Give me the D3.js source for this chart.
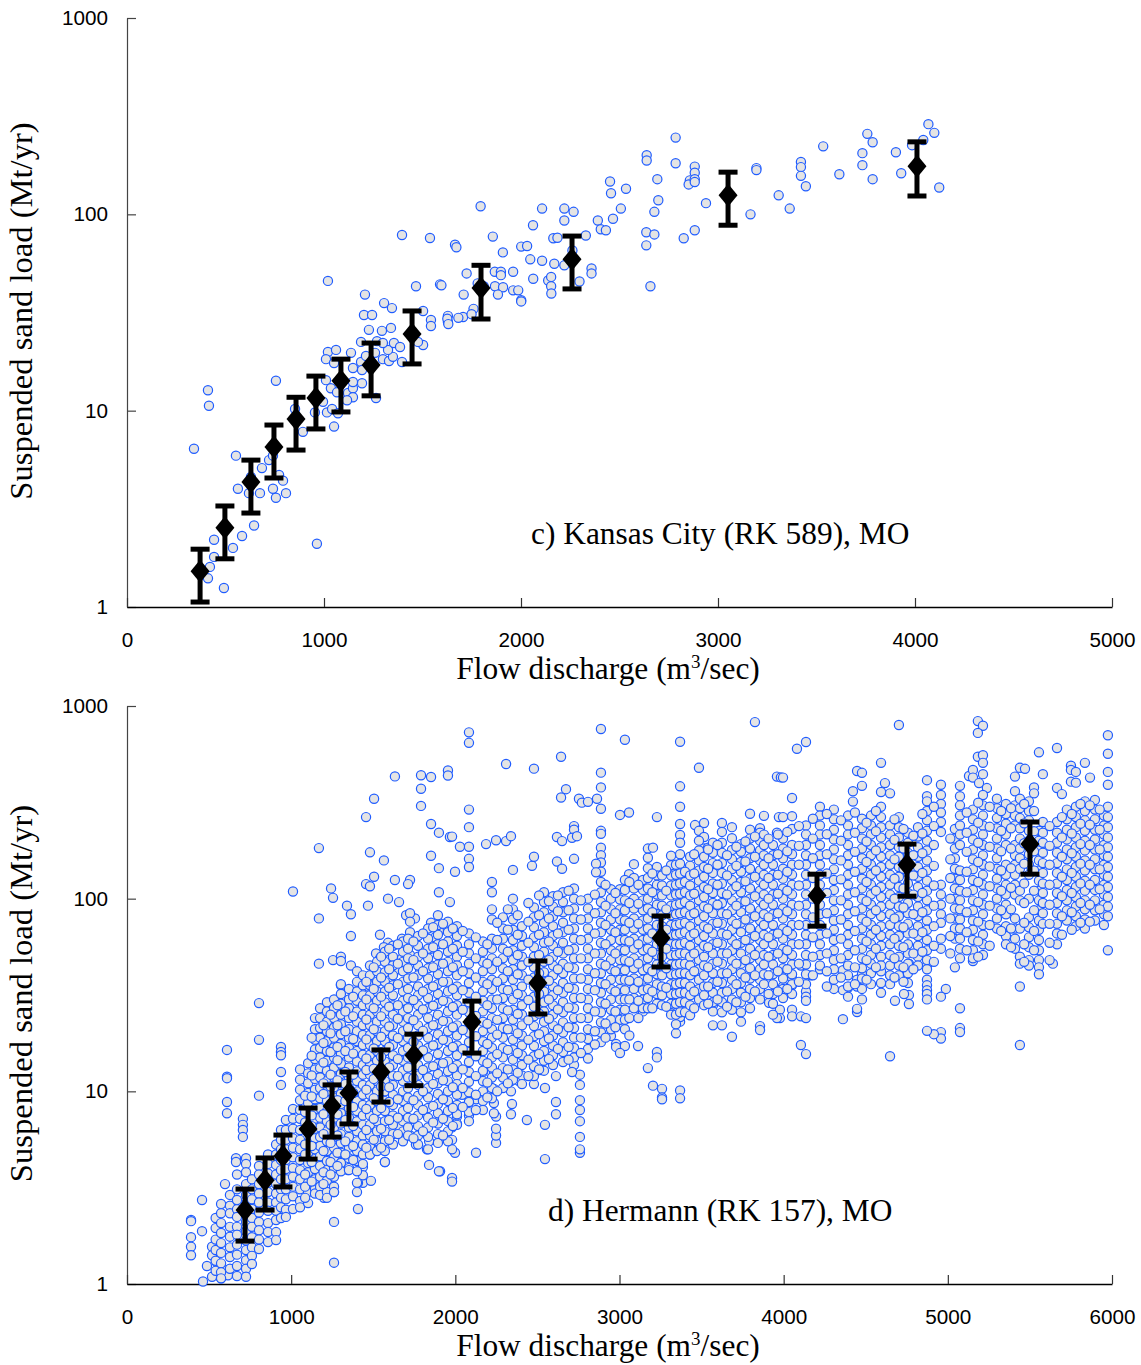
<!DOCTYPE html>
<html>
<head>
<meta charset="utf-8">
<script src="https://cdn.jsdelivr.net/npm/d3@7"></script>
<style>
  html, body { margin: 0; padding: 0; background: #fff; }
  svg { display: block; }
  .tick text { font-family: "Liberation Sans", Arial, sans-serif; font-size: 20.7px; fill: #000; }
  .title { font-family: "Liberation Serif", "Times New Roman", serif; font-size: 31.4px; fill: #000; }
  .ytitle { font-size: 32.6px; }
</style>
</head>
<body>
<svg id="chart" width="1141" height="1365"></svg>
<script>
const yTicks = [1, 10, 100, 1000]
const kansasTicks = [0, 1000, 2000, 3000, 4000, 5000]
const hermannTicks = [0, 1000, 2000, 3000, 4000, 5000, 6000]

// panel c, [discharge, sand load]
const kansasPoints = [
  [340,6.4],[411,12.7],[416,10.6],[756,14.2],[553,5.9],[685,5.1],[721,5.6],[741,5.9],[629,4.6],[772,4.7],[792,4.4],[563,4],[619,3.8],[675,3.8],[741,4],[807,3.8],[756,3.6],
  [645,2.6],[584,2.3],[442,2.2],[538,2],[442,1.8],[421,1.6],[411,1.4],[492,1.25],[964,2.1],[853,10.2],[893,7.8],[1010,14.3],[954,9.8],[1051,8.3],[1015,9.8],[1041,10.2],[1071,9.7],
  [995,11.1],[1035,13],[1066,12.4],[1122,12.3],[1147,13],[1147,11.7],[1117,11.3],[1193,13.8],[1147,14],[1264,11.6],[1020,19.9],[1061,20.4],[1010,18.3],[1051,17.5],[1137,19.7],[1147,16.5],
  [1188,17.7],[1193,16.1],[1213,19],[1259,19.7],[1299,18.3],[1330,17.9],[1350,18.8],[1325,20.4],[1396,17.7],[1188,22.4],[1269,22.6],[1299,22.1],[1355,22.1],[1386,21.1],[1294,25.5],[1340,26.4],
  [1228,25.8],[1203,30.7],[1244,30.7],[1305,35.3],[1345,33.3],[1503,32.2],[1543,29],[1543,27],[1629,30.4],[1629,28.3],[1503,21.6],[1477,22.4],[1020,45.8],[1396,78.5],[1538,75.8],[1467,43],[1589,44],[1665,70],[1208,39],[1706,30],
  [1795,110],[1672,68],[1857,77],[1908,64],[1724,50],[1867,51],[1898,51],[1898,49],[1960,51],[1780,44.5],[1811,43],[1868,43],[1909,42.5],[1960,41],[1986,41],[1883,39],[1709,39],[2001,36.5],[2001,36],[1596,43.5],
  [1759,33],[1749,31],[1682,29.7],[1626,29.4],[1631,27.6],[2107,107],[2061,88],[2220,107],[2267,103],[2220,93],[2001,68.5],[2031,69],[2047,59],[2107,58],[2169,56],[2164,75.5],[2185,76],[2261,65.5],[2220,55],[2062,47],
  [2138,46],[2153,48],[2153,43],[2154,39.5],[2297,45.5],[2358,53],[2358,50],[2329,78],[2390,93],[2405,84],[2431,83],[2467,95],[2507,107],[2452,147],[2457,128],[2533,135],[2638,200],[2638,188],[2785,246],[2785,182],
  [2692,151],[2697,118],[2677,103],[2636,81],[2677,79],[2636,69.5],[2657,43],[2882,175],[2882,163],[2857,149],[2851,142],[2882,151],[2882,146],[2939,114],[2826,75.5],[2882,83],[3165,100],[3195,172],[3195,168],[3308,125],
  [3364,107],[3421,185],[3421,174],[3421,157],[3446,139],[3534,222],[3616,160],[3733,205],[3733,178],[3785,151],[3758,257],[3785,233],[3903,207],[3930,162],[3985,225],[4042,239],[4068,288],[4098,260],[4123,137]
]
const kansasBinFlow = [371, 497, 629, 746, 858, 959, 1086, 1239, 1447, 1797, 2259, 3051, 4010]
const kansasBinLoad = [1.52, 2.53, 4.33, 6.53, 9.07, 11.6, 14.2, 17.1, 24.6, 42.2, 59, 125, 176]
const kansasBinLow = [1.06, 1.76, 3.01, 4.54, 6.3, 8.07, 9.85, 11.9, 17.3, 29.3, 41.7, 88, 124]
const kansasBinHigh = [1.97, 3.27, 5.6, 8.45, 11.7, 15, 18.3, 22.1, 32.2, 55, 77.5, 164, 234]

// panel d scattered values away from the main cloud
const hermannOutliers = [
  [1169,183],[1011,109],[1243,113],[1255,101],[1340,92],[1364,83],[1169,79],[1364,64],[1169,46],[1255,48],[1303,50],[1303,47.5],[1364,45],[1456,265],[1505,330],[1480,174],[1565,158],[1505,130],[1456,119],[1480,116],
  [1632,125],[1724,125],[1712,119],[1468,92],[1590,100],[1657,96],[1632,431],[1791,437],[1852,428],[1791,372],[1791,303],[1852,244],[1900,220],[1967,209],[1852,167],[1900,144],[1900,108],[1967,96],[1894,82],[1700,82],
  [1754,79],[1724,84],[1852,75],[1724,76],[1724,67],[1900,68],[1675,62],[1876,63],[1541,65],[1590,59],[1565,56],[1517,52],[1541,49],[1675,49],[1724,51],[1852,55],[1657,43],[1480,40],[1785,42],[1852,45],[1468,35],[1547,38],[1303,35.5],
  [2083,730],[2083,644],[1955,463],[1955,436],[2309,500],[2479,473],[2644,545],[2887,760],[3033,668],[3369,652],[3825,825],[3484,478],[3369,383],[3369,300],[2887,451],[2887,378],[2887,293],[2674,370],[2644,335],[2753,330],
  [2771,315],[2808,318],[2863,330],[3003,272],[3058,280],[3228,265],[3959,430],[3983,426],[2083,290],[2083,235],[2083,186],[2083,161],[2083,146],[1980,210],[2028,186],[2187,192],[2248,201],[2309,199],[2339,211],[1998,138],
  [2351,141],[2467,148],[2479,165],[2619,156],[2650,143],[2619,209],[2650,199],[2723,238],[2723,228],[2711,207],[2741,211],[2723,161],[2887,225],[2887,217],[2887,184],[2887,168],[2887,154],[2887,138],[2857,152],[2857,137],
  [3088,151],[3058,134],[3173,182],[3204,184],[3173,163],[3173,144],[3228,146],[3228,132],[3369,244],[3369,214],[3369,195],[3369,170],[3314,167],[3314,149],[3460,241],[3515,247],[3484,225],[3515,209],[3515,182],[3539,184],
  [3430,165],[3430,148],[3624,247],[3624,222],[3685,235],[3685,206],[3624,195],[3685,179],[3795,276],[3880,269],[3795,228],[3856,232],[3856,220],[3740,192],[3971,265],[3959,220],
  [4081,600],[4136,650],[4702,797],[5183,835],[5214,790],[5183,725],[5975,705],[5975,565],[5975,455],[5975,390],[5665,605],[5555,575],[5183,545],[5214,555],[5214,507],[5214,443],[4593,507],[4447,460],[4477,450],[4477,385],
  [4422,361],[4422,319],[4051,333],[4051,268],[3996,425],[3996,265],[4617,398],[4593,358],[4648,352],[4873,412],[4873,340],[4958,390],[5074,385],[5129,433],[5153,466],[5153,425],[5190,398],[5238,375],[5409,430],[5439,478],
  [5470,472],[5409,361],[5525,378],[5525,352],[5579,443],[5665,375],[5695,349],[5750,490],[5750,466],[5780,455],[5835,507],[5866,425],[5750,405],[5780,400],
  [5439,35],[5439,17.4],[5074,27],[5074,21.3],[5074,20.3],[4988,34],[4958,31],[4958,20.3],[4958,18.8],[4915,19.8],[4873,20.6],[4873,38],[4873,35.5],[4873,33.5],[4873,32],[4873,30],[4873,45],[5043,44],[4763,31.6],[4733,32],
  [4763,28.4],[4678,29.5],[4648,15.2],[4447,25.8],[4447,26.8],[4361,23.7],[4392,34.5],[4361,33.5],[4447,35],[4477,40.5],[4447,38],[4361,40],[4361,42.5],[4593,42],[4648,40],[4733,44],[4763,46],[4136,33],[4136,31],[4136,29.5],
  [4051,26.5],[4051,24.5],[4105,24.5],[4136,24],[4105,17.4],[4136,15.6],[4051,35.5],[4051,38.7],[4166,40],[4221,43],[4105,45],[5640,46],[5153,47.5],[3996,35],[3977,26.5],[3977,24],
  [2546,4.45],[2126,4.8],[1998,4.8],[1980,5],[1980,5.6],[1980,3.55],[1907,3.85],[2759,4.8],[2759,5],[2759,5.8],[2759,7],[2759,8],[2759,9],[2759,10.8],[2759,12.2],[2613,7.6],[2613,8.8],[2613,12],[2436,7.1],[2546,6.7],[2546,10.4],
  [2339,7.6],[2345,8.6],[2339,10],[2339,11.3],[2248,5.4],[2248,5.9],[2248,6.4],[2248,7.4],[2235,7.7],[2235,8.7],[2235,10.3],[2235,12.6],[2168,12.6],[2388,11.3],[2479,10.9],[2479,12],[2479,13.4],[2522,12.9],[2083,7.5],[2126,9.1],
  [2083,8.8],[1998,8.3],[2010,7.4],[2010,6.8],[1980,6.5],[2041,9.6],[3113,17.2],[3173,13.2],[3204,10.7],[3259,10.3],[3259,9.3],[3259,9.1],[3369,10.1],[3369,9.2],[3228,16],[3228,15],[3344,20],[3685,19.2],[3856,21.8],[3856,20.8],
  [3569,22],[3624,22],[3369,23],[3369,24.3],[3399,26],[3119,26.8],[3143,26],[3314,27.8],[3569,28],[3569,26],[2948,19.4],[2979,17.6],[2979,17],[3033,17.2],[3003,15.8],[2723,13.7],[2711,12.6],[3911,28.8],[3959,24],
  [804,28.7],[804,18.5],[609,16.4],[609,11.9],[609,11.7],[609,8.8],[609,7.7],[804,9.5],[938,17],[938,16],[938,15.4],[938,12.6],[938,10.8],[706,7.2],[706,6.7],[706,6.3],[706,5.8],[664,4.5],[664,4.3],[725,4.5],[725,4.2],[725,3.8],
  [597,3.3],[457,2.73],[457,1.88],[390,2.15],[390,2.12],[390,1.75],[390,1.56],[390,1.41],[463,1.03],[487,1.24],[518,1.56],[518,1.41],[518,1.09],[548,1.29],[548,1.18],[573,1.07],[597,1.18],[615,1.11],[1261,2.1],[1261,1.29],
  [1407,2.45],[1401,3],[1437,3.35],[1407,3.35],[1486,3.43],[1437,4.05],[1437,3.67],[1346,3.9],[1273,3.85],[1291,4.4],[1571,4.3],[1480,4.7],[1511,5.1],[1760,5.3],[1840,4.15],[1900,3.85],[1980,3.4],[1827,5],[1840,5.5],[1657,6.6],
  [1706,6.8],[1724,5.9],[1578,5.8],[1511,5.8],[1511,6.6],[1200,2.8],[1200,3],[1261,3],[5975,54]
]
// panel d main cloud: the gauge readings stack up at fixed discharges
const hermannFlow = [
  540,573,627,670,725,761,804,859,908,938,968,1011,1054,1103,1145,1176,1218,1261,1303,1352,1401,1437,1480,1523,1571,1620,1681,1712,1773,1834,1894,1955,2010,2083,2168,
  2223,2290,2351,2406,2479,2540,2595,2656,2723,2808,2887,2948,3003,3033,3088,3143,3173,3228,3259,3314,3344,3369,3399,3430,3484,3515,3569,3624,3685,3740,3795,3856,3880,3935,3996,
  4051,4136,4221,4306,4392,4477,4532,4593,4648,4702,4757,4818,4873,4958,5043,5074,5153,5214,5299,5354,5409,5439,5494,5555,5579,5665,5725,5780,5835,5896,5951,5975
]
const hermannLoads = [
  [2.2,1.95,1.7,1.5,1.32,1.17],
  [2.6,2.33,2.07,1.84,1.63,1.45,1.28,1.15,1.07],
  [2.9,2.55,2.33,1.98,1.76,1.55,1.38,1.2],
  [3.7,3.1,2.73,2.44,2.23,1.98,1.8,1.6,1.42,1.24,1.1],
  [3.3,2.9,2.6,2.35,2.1,1.88,1.68,1.5,1.33,1.2,1.09],
  [3.5,3.1,2.75,2.45,2.2,1.98,1.75,1.55,1.4,1.27],
  [4.1,3.7,3.3,2.95,2.65,2.35,2.1,1.9,1.7,1.52],
  [4.7,4.2,3.75,3.35,3,2.65,2.4,2.07,1.86,1.65],
  [5.3,4.7,4.15,3.7,3.3,2.95,2.65,2.4,2.15,1.86,1.69],
  [6.3,5.6,5,4.4,3.9,3.5,3.1,2.8,2.5,2.2],
  [7.1,6.3,5.6,5,4.4,3.95,3.5,3.1,2.75,2.43,2.23],
  [8.1,7.2,6.4,5.7,5.1,4.55,4,3.6,3.2,2.85,2.45],
  [13,11.5,10.2,9,8,7.2,6.3,5.6,5,4.4,3.9,3.5,3.1,2.7,2.5],
  [14,12.4,11,9.8,8.7,7.7,6.8,6.1,5.4,4.8,4.25,3.8,3.35,3,2.63],
  [24,21,18.5,16.5,14.7,13,11.6,10.2,9.1,8.1,7.2,6.4,5.7,5,4.45,3.95,3.5,3.1,2.95],
  [27,24,21.3,19,16.8,15,13.2,11.8,10.4,9.2,8.2,7.3,6.5,5.8,5.2,4.6,4.1,3.6,3.2,2.9],
  [29,26,23,20.5,18.2,16.2,14.4,12.8,11.3,10,8.9,7.9,7,6.2,5.5,4.9,4.35,3.9,3.45,3,2.8],
  [30,27,24,21.4,19,16.9,15,13.3,11.8,10.5,9.3,8.3,7.3,6.5,5.8,5.1,4.55,4,3.6,3.2,3],
  [36,32,28.5,25,22.3,19.8,17.6,15.6,13.9,12.3,11,9.7,8.6,7.7,6.8,6,5.4,4.8,4.25,3.85],
  [34,30,27,24,21,19,16.8,15,13.3,11.8,10.4,9.3,8.2,7.3,6.5,5.8,5.1,4.5,4,3.9],
  [42,37,33,29.5,26,23,20.5,18.2,16.2,14.3,12.7,11.3,10,8.9,7.9,7,6.2,5.5,4.9,4.35,3.85,3.35],
  [40,35.5,31.5,28,25,22,19.6,17.4,15.5,13.7,12.2,10.8,9.6,8.5,7.5,6.7,5.9,5.3,4.7,4.2],
  [45,40,35.5,31.5,28,25,22,19.6,17.4,15.5,13.7,12.2,10.8,9.6,8.5,7.5,6.7,5.9,5.2,4.7],
  [47,42,37,33,29.5,26,23,20.5,18.2,16.2,14.4,12.8,11.3,10,8.9,7.9,7,6.2,5.5,4.9],
  [53,47,41.5,37,33,29,26,23,20.5,18.2,16.2,14.3,12.7,11.3,10,8.9,7.9,7,6.2,5.5,4.9,4.3],
  [57,50,45,40,35.5,31.5,28,25,22,19.5,17.4,15.4,13.7,12.1,10.8,9.6,8.5,7.5,6.7,6,5.3],
  [60,53,47,42,37,33,29.5,26,23,20.5,18.2,16.2,14.4,12.8,11.3,10,8.9,7.9,7,6.2,5.5],
  [62,55,49,43.5,38.5,34,30.5,27,24,21.3,19,16.8,15,13.3,11.8,10.4,9.3,8.2,7.3,6.5,5.9],
  [64,57,50,45,40,35,31.5,28,25,22,19.5,17.3,15.4,13.7,12.1,10.8,9.5,8.5,7.5,6.6,5.9,5.3],
  [70,62,55,49,43.5,38.5,34,30.5,27,24,21.3,19,16.8,15,13.3,11.8,10.4,9.3,8.2,7.3,6.5,5.8,5],
  [73,65,58,51,45.5,40.5,36,32,28.5,25,22.3,19.8,17.6,15.6,13.9,12.3,11,9.7,8.6,7.7,6.8,6,5.4],
  [76,67,60,53,47,42,37,33,29,26,23,20.5,18.2,16.2,14.3,12.7,11.3,10,8.9,7.9,7,6.2,5.5],
  [72,64,57,50,45,40,35,31.5,28,25,22,19.5,17.3,15.4,13.7,12.1,10.9,9.6,8.5,7.6,6.7],
  [66,58,52,46,41,36.5,32.5,29,25.7,22.8,20.2,18,16,14.2,12.6,11.2,9.9,8.8,7.8,7],
  [60,53,47,42,37,33,29.5,26,23,20.5,18.2,16.2,14.4,12.8,11.3,10,8.9,8],
  [122,108,88,78,62,55,49,43,38,34,30,27,24,21,19,16.8,15,13.3,11.8,10.4,9.2],
  [80,70,62,55,49,43.5,38.5,34,30.5,27,24,21.3,19,16.8,15,13.2,11.8,10.4],
  [100,88,78,69,61,54,48,43,38,34,30,26.5,23.5,21,18.5,16.5,14.6,13,11.5],
  [72,64,57,50,45,40,35,31.5,28,25,22,19.5,17.3,15.4,13.7,12.1,10.9],
  [90,80,71,63,56,50,44,39,35,31,27.5,24.5,21.8,19.3,17.2,15.2,13.5],
  [108,96,85,75,67,59,53,47,41.5,37,33,29,26,23,20.5,18.2,16.2,14.4,12.8],
  [103,91,81,72,64,57,50,45,40,35,31.5,28,25,22,19.5,17.3,15.4,13.7],
  [108,96,85,75,67,59,52,46,41,36.5,32.5,29,25.7,22.8,20.2,18,16,14.2],
  [113,100,89,79,70,62,55,49,43.5,38.5,34,30.5,27,24,21.3,19,16.8,15],
  [100,89,79,70,62,55,49,43,38,34,30,27,24,21,18.7,16.6,14.8],
  [122,108,96,85,75,67,59,52,46,41,36.5,32.5,29,25.7,22.8,20.2,18],
  [112,100,88,78,69,61,54,48,43,38,34,30,26.5,23.5,21],
  [112,99,88,78,69,61,54,48,43,38,34,30,26.5,23.5],
  [125,111,98,87,77,69,61,54,48,42.5,38,33.5,30,26.5,23.5,21],
  [128,113,100,89,79,70,62,55,49,43.5,38.5,34,30.5,27],
  [125,111,98,87,77,69,61,54,48,42.5,38,33.5,30,27],
  [128,113,100,89,79,70,62,55,49,43.5,38.5,34,30.5,27],
  [118,105,93,83,73,65,58,51,45.5,40.5,36,32,28.5],
  [132,117,104,92,82,72,64,57,50,45,40,35,31.5,28],
  [132,117,104,92,82,73,65,58,51,45.5,40.5,36,32,28.5,25],
  [150,133,118,105,93,83,73,65,58,51,45.5,40.5,36,32,28.5,25,22.3],
  [152,135,120,106,94,84,74,66,58,52,46,41,36.5,32.5,29,25.7],
  [138,122,108,96,85,75,67,59,52,46,41,36.5,32.5,29,25.7],
  [132,117,104,92,82,72,64,57,50,45,40,35,31.5,28,24.8],
  [200,178,158,140,124,110,98,87,77,69,61,54,48,43,38,34,30],
  [165,146,130,115,102,91,81,72,64,57,50,45,40,35,31.5,28],
  [195,173,153,136,120,107,95,84,74,66,58,52,46,41,36.5,32.5,29],
  [173,153,136,120,107,95,84,74,66,58,52,46,41,36.5,32.5,29,25.7],
  [160,142,125,111,98,87,77,69,61,54,48,43,38,34,30,26.5],
  [175,155,138,122,108,96,85,75,67,59,52,46,41,36.5,32.5,29,25.7,23],
  [205,182,162,143,127,113,100,89,79,70,62,55,49,43.5,38.5,34,30.5,27],
  [200,178,158,140,124,110,98,87,77,69,61,54,48,43,38,34,30],
  [215,190,168,150,133,118,105,93,83,73,65,58,51,45.5,40.5,36],
  [190,168,150,133,118,105,93,83,73,65,58,51,45.5,40.5,36,32,28.5,25],
  [205,182,162,143,127,113,100,89,79,70,62,55,49,43.5,38.5,34,30.5],
  [230,190,170,150,133,118,105,93,83,73,65,58,51,45.5,40.5,36,32],
  [240,215,190,168,150,133,118,105,93,83,73,65,58,51,45.5,40.5,36],
  [300,270,240,215,190,168,150,133,118,105,93,83,73,65,58,51,45],
  [290,258,228,203,180,160,142,125,111,98,87,77,69,61,54,48,43,38,34],
  [270,240,215,190,168,150,133,118,105,93,83,73,65,58,51,45,40,35,31],
  [260,232,205,182,162,143,127,113,100,89,79,70,62,55,49,43.5,38.5,34,30],
  [270,240,215,190,168,150,133,118,105,93,83,73,65,58,51,46,41,36],
  [300,265,235,208,185,165,146,130,115,102,91,81,72,64,57,50,45,36.5,32.5],
  [240,215,190,168,150,133,118,105,93,83,73,65,58,51,45,40,36],
  [265,235,208,185,165,146,130,115,102,91,81,72,64,57,50,45,40],
  [220,195,173,153,136,120,107,95,84,74,66,58,52,46,41,36.5],
  [235,210,185,165,146,130,115,102,91,81,72,64,57,50,45],
  [320,285,255,225,200,178,158,140,124,110,98,87,77,69,61,54,48,43],
  [345,310,280,250,222,118,105,93,83,75,62,55],
  [230,205,182,162,143,127,113,100,89,79,70,62],
  [340,305,270,240,215,190,140,125,110,98,88,78,70,62,55,49],
  [290,258,228,203,180,160,142,125,111,98,87,77,69,61,54,49],
  [345,305,270,240,215,190,168,150,133,118,105,93,83,73,65,58,51],
  [330,295,262,232,205,182,162,143,127,113,100,89,79,70],
  [310,275,245,215,190,150,133,118,105,93,83,72,64,58],
  [305,270,240,190,168,150,133,118,105,79,70,62,55],
  [330,295,262,232,205,182,162,143,110,98,70,50,46],
  [320,285,255,225,200,170,150,133,100,80,71,63,56,48,45],
  [225,200,178,158,140,124,110,98,87,77,69,61,54,48,44,40.5],
  [250,220,195,173,153,136,120,107,95,84,74],
  [250,220,195,173,153,136,120,107,95,84,74,66,58],
  [290,258,228,203,180,160,142,125,111,98,87,77],
  [300,265,235,208,185,165,146,130,115,102,91,81,72],
  [320,285,255,225,200,178,158,140,124,110,98,88,78,70],
  [325,290,258,228,203,180,160,142,125,111,98,87,77],
  [270,240,215,190,168,150,133,118,105,93,83,73],
  [300,265,235,208,185,165,146,130,115,102,91,81]
]
// readings between those stacks
const hermannFlow2 = [
  1085,1125,1197,1240,1282,1330,1378,1458,1503,1548,1597,1650,1745,1803,1865,1925,1985,2045,2125,2195,2255,2320,2380,2445,2510,2570,2625,2690,2765,2850,2915,2975,
  3060,3115,3200,3285,3455,3540,3597,3655,3712,3767,3825,3908,3965,4022,4093,4178,4263,4349,4434,4505,4562,4675,4730,4790,4845,4915,5015,5115,5185,5255,5325,5385,5465,5525,5620,5695,5755,5808,5865,5925
]
const hermannLoads2 = [
  [9.5,7.8,6.9,5.3,4.7,3.7,3.2,2.8],[19,15.3,12.1,9.4,7.5,6.6,5.2,4.3,3.4],[22,17.8,14.1,11,9.7,7.6,6,4.9,3.8,3.3],[25,20,16,12.2,10.6,8.6,6.7,5.4,4.3,3.7],
  [28,22,17,14.5,11.4,9,7.6,5.9,4.8,4.1],[26,20.5,16.2,12.6,10.9,8.9,7.1,5.5,4.7],[31,24.5,18.7,15.7,12.2,9.8,8.3,6.6,5.2,4.4],[37,30,23.6,18.6,14.8,12.9,10.2,8.1,6.3,5.1],
  [44,34,27,21,16.7,13.1,11.6,9.2,7.2,5.6],[50,39,31,24.5,19.2,15.1,12,10.6,8.2,6.4,5.1],[55,43,34.5,27.5,21.7,17,13.3,10.5,8.8,7.1,5.6],[58,46,36,28,23.8,18.9,14.7,12,9.1,7.3,6],
  [60,48,39,29.8,23.4,18.1,14.9,11.7,9,7.2,5.7],[66,52,42,33,26.6,20.6,16.3,12.9,10,8,6.2],[71,56,44,35,27.8,22,17.3,13.5,10.9,8.4,6.9],[74,58,46,37,29.5,23.2,18.5,14,11.4,9.1,7.2,5.9],
  [70,55,44,34,27.4,21.5,17,13.2,10.5,8.2,6.6],[68,53,42,33.5,26.5,20.8,16.6,13,10.4,8.3],[63,49,39,31,24.6,19.3,15.2,12,9.6,8],[58,46,36,28,22.4,17.6,14,11.1,9.3],
  [75,61,47,37,30,23.5,19.7,15.6,12.4,10],[88,69,53,42,33.5,26.3,21,16.4,13,11],[82,65,51,40.5,32,25.2,20,15.8,12.5],[95,76,59,47,38,29.8,23.4,18.5,14.6,12],
  [104,82,65,51,41,32,25.3,19.8,15.6,13],[97,79,60,48,37.5,30,23.8,18.8,14.7],[104,86,66,53,43,33.5,26.6,21,16.6],[110,87,69,54,44,34.5,27.2,21.5,17,14.6],
  [98,78,61,49,38.5,30.5,24,19,15.8],[105,84,66,52,41,33.5,26,20.5,17.5],[118,92,73,58,45,36,28.5,22.5,19],[107,84,67,52,42,33,26,21.5],
  [122,95,75,60,47,37.5,30,24,19.5],[118,94,74,58,46,37,29.5,24],[135,108,85,66,53,42,33,27],[140,110,88,69,55,43.5,34.5,27.5],
  [170,135,106,84,66,52,42,33,27],[180,143,112,89,70,56,44,35,28.5],[190,150,118,93,75,59,47,37,30],[168,132,105,83,65,52,41,33,27.5],
  [186,148,116,92,74,58,46,36,29],[198,156,123,97,78,61,48,39,31],[210,165,130,103,81,64,51,40,33],[205,162,128,100,80,63,50,40,32],
  [215,170,133,106,84,66,52,42,33],[222,176,138,110,86,68,54,43,34],[238,188,150,117,92,73,58,46,37],[260,205,162,128,100,80,63,50,40],
  [275,216,170,135,107,84,66,52,42,35],[255,200,158,126,98,78,62,49,39],[280,220,175,138,108,86,68,54,44,36],[248,198,155,122,97,76,60,48,38],
  [285,224,178,140,110,87,69,55,44],[258,202,160,127,100,79,62,49,39],[230,182,143,113,90,71,56,44,37],[212,168,132,105,83,66,52,43],
  [275,218,172,136,107,85,67,53],[300,238,190,148,117,92,72,57,47],[205,160,128,100,79,64,52],[280,220,175,138,108,85,67,54],
  [315,248,195,155,122,96,76,60,50],[300,236,186,147,116,92,73,57],[285,225,176,140,110,87,68],[295,232,182,144,114,88,70,56],
  [310,246,194,152,120,95,75,58,47],[285,224,176,140,110,87,68,54],[238,188,150,118,93,74,59,48],[265,208,165,130,103,81,65],
  [275,218,172,136,107,85,69],[310,245,192,152,120,95,75],[305,242,190,150,118,93,76],[290,228,180,142,112,88]
]
const hermannBinFlow = [719, 841, 950, 1103, 1249, 1352, 1547, 1748, 2101, 2503, 3253, 4203, 4751, 5500]
const hermannBinLoad = [2.42, 3.46, 4.62, 6.37, 8.39, 9.8, 12.6, 15.4, 22.9, 36.5, 62.5, 104, 150, 192]
const hermannBinLow = [1.67, 2.42, 3.19, 4.45, 5.79, 6.77, 8.8, 10.7, 15.8, 25.2, 44.2, 72, 103, 134]
const hermannBinHigh = [3.11, 4.51, 5.93, 8.19, 10.8, 12.6, 16.4, 19.8, 29.4, 47.5, 81.3, 134, 192, 250]

const hermannPoints = hermannOutliers.concat(
  hermannFlow.flatMap((q, i) => hermannLoads[i].map(load => [q, load])),
  hermannFlow2.flatMap((q, i) => hermannLoads2[i].map(load => [q, load]))
)

const svg = d3.select('#chart')

function drawPanel(o) {
  const x = d3.scaleLinear().domain(o.xDomain).range([127, 1112])
  const y = d3.scaleLog().domain([1, 1000]).range([o.bottom, o.top])
  const g = svg.append('g')

  g.append('g')
    .attr('transform', `translate(127, 0)`)
    .call(d3.axisLeft(y).tickValues(yTicks).tickFormat(d3.format('d')).tickSizeInner(-9).tickSizeOuter(0).tickPadding(19))
    .call(a => a.select('.domain').attr('stroke', '#444').attr('stroke-width', 1.2))
    .call(a => a.selectAll('.tick line').attr('stroke', '#444').attr('stroke-width', 1.2))

  g.append('g')
    .attr('transform', `translate(0, ${o.bottom})`)
    .call(d3.axisBottom(x).tickValues(o.xTicks).tickFormat(d3.format('d')).tickSizeInner(-9).tickSizeOuter(0).tickPadding(25))
    .call(a => a.select('.domain').attr('stroke', '#000').attr('stroke-width', 1.5))
    .call(a => a.selectAll('.tick line').attr('stroke', '#333').attr('stroke-width', 1.2))

  g.append('g').selectAll('circle')
    .data(o.points)
    .join('circle')
    .attr('cx', d => x(d[0]))
    .attr('cy', d => y(d[1]))
    .attr('r', 4.6)
    .attr('fill', '#e4e4e4')
    .attr('stroke', '#1f5cff')
    .attr('stroke-width', 1.2)

  // mean and spread for each discharge bin
  const bars = g.append('g').selectAll('g')
    .data(o.binFlow)
    .join('g')
    .attr('transform', d => `translate(${x(d)}, 0)`)

  bars.append('line')
    .attr('y1', (d, i) => y(o.binLow[i]))
    .attr('y2', (d, i) => y(o.binHigh[i]))
    .attr('stroke', '#000')
    .attr('stroke-width', 5)

  bars.append('line')
    .attr('x1', -9.5).attr('x2', 9.5)
    .attr('y1', (d, i) => y(o.binLow[i]))
    .attr('y2', (d, i) => y(o.binLow[i]))
    .attr('stroke', '#000')
    .attr('stroke-width', 5)

  bars.append('line')
    .attr('x1', -9.5).attr('x2', 9.5)
    .attr('y1', (d, i) => y(o.binHigh[i]))
    .attr('y2', (d, i) => y(o.binHigh[i]))
    .attr('stroke', '#000')
    .attr('stroke-width', 5)

  bars.append('path')
    .attr('d', 'M0,-11.5L9.5,0L0,11.5L-9.5,0Z')
    .attr('transform', (d, i) => `translate(0, ${y(o.binLoad[i])})`)
    .attr('fill', '#000')

  g.append('text')
    .attr('class', 'title ytitle')
    .attr('transform', `translate(32, ${(o.top + o.bottom) / 2 - 1.5}) rotate(-90)`)
    .attr('text-anchor', 'middle')
    .text('Suspended sand load (Mt/yr)')

  const xTitle = g.append('text')
    .attr('class', 'title')
    .attr('x', 608)
    .attr('y', o.bottom + 72)
    .attr('text-anchor', 'middle')
  xTitle.append('tspan').text('Flow discharge (m')
  xTitle.append('tspan').attr('dy', -11).attr('font-size', 19).text('3')
  xTitle.append('tspan').attr('dy', 11).text('/sec)')

  g.append('text')
    .attr('class', 'title')
    .attr('x', o.noteX)
    .attr('y', o.bottom - 63)
    .text(o.note)
}

drawPanel({
  top: 18, bottom: 607, xDomain: [0, 5000], xTicks: kansasTicks, points: kansasPoints,
  binFlow: kansasBinFlow, binLoad: kansasBinLoad, binLow: kansasBinLow, binHigh: kansasBinHigh,
  note: 'c) Kansas City (RK 589), MO', noteX: 531
})

drawPanel({
  top: 706, bottom: 1284, xDomain: [0, 6000], xTicks: hermannTicks, points: hermannPoints,
  binFlow: hermannBinFlow, binLoad: hermannBinLoad, binLow: hermannBinLow, binHigh: hermannBinHigh,
  note: 'd) Hermann (RK 157), MO', noteX: 548
})
</script>
</body>
</html>
